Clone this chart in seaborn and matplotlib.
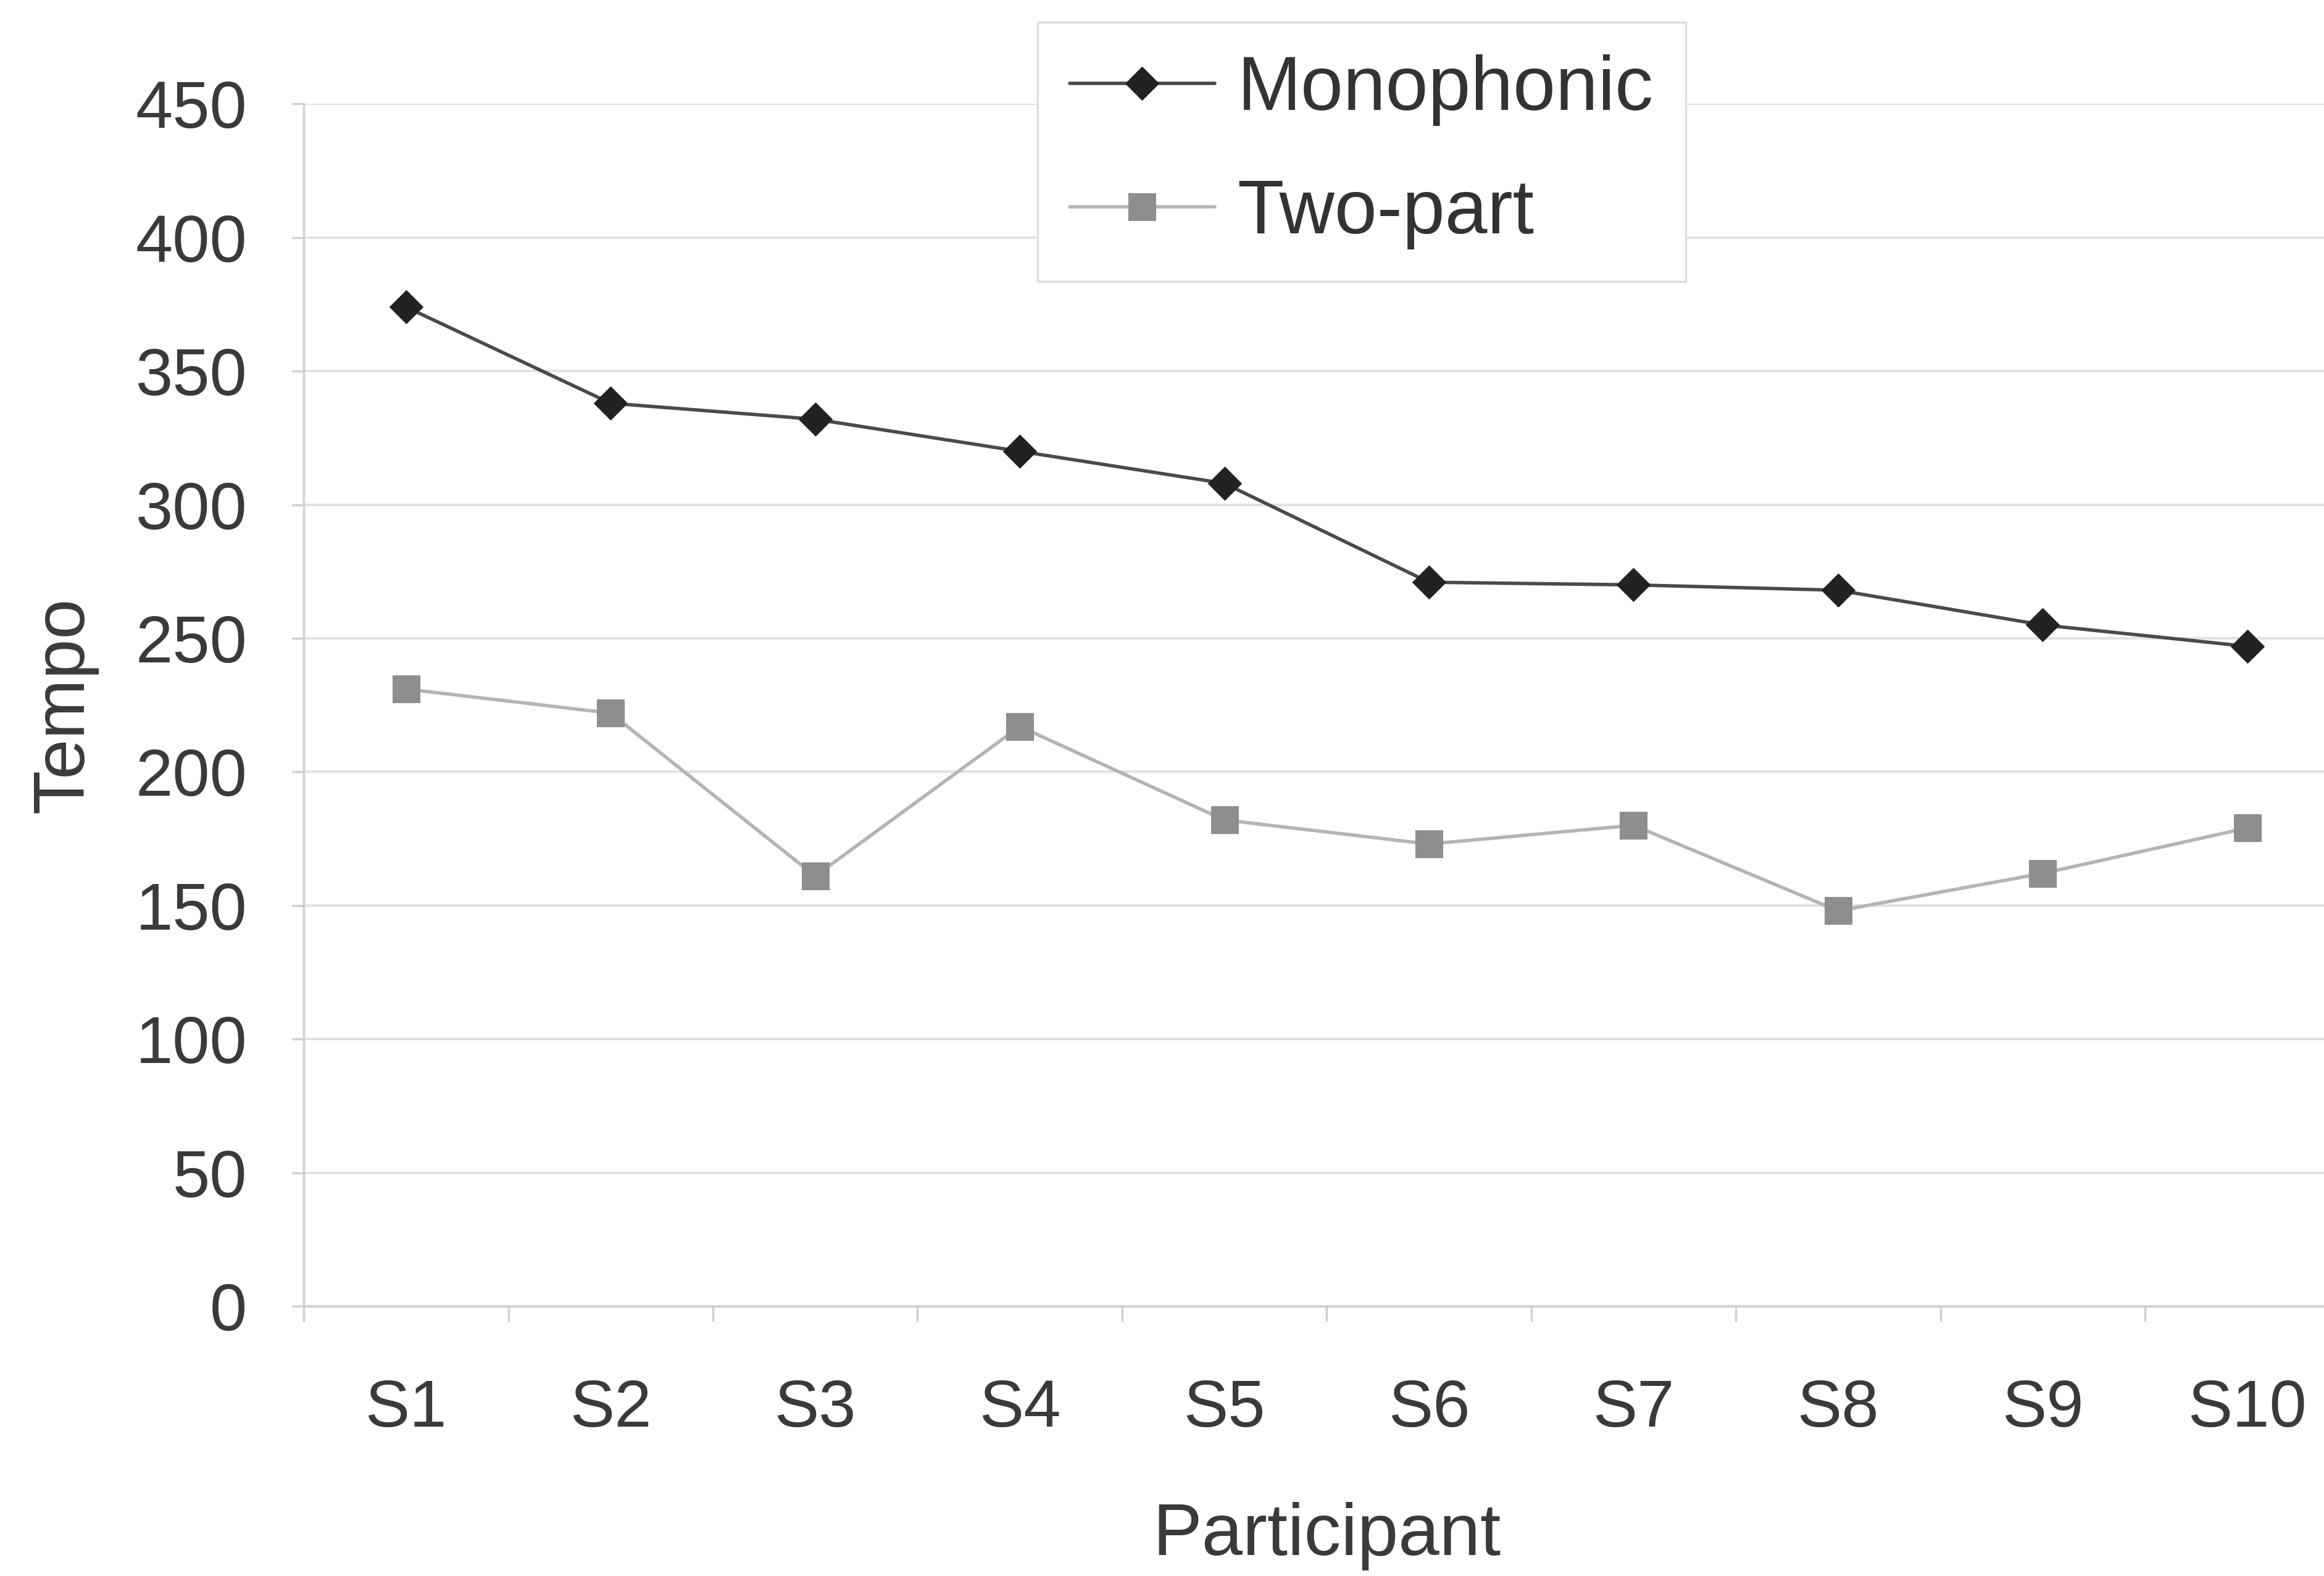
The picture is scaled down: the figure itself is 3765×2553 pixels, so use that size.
import matplotlib
matplotlib.use("Agg")
import matplotlib.pyplot as plt
from matplotlib.ticker import FixedLocator
import seaborn as sns
import pandas as pd

participants = ["S1", "S2", "S3", "S4", "S5", "S6", "S7", "S8", "S9", "S10"]
monophonic = [374, 338, 332, 320, 308, 271, 270, 268, 255, 247]
two_part = [231, 222, 161, 217, 182, 173, 180, 148, 162, 179]
y_ticks = [0, 50, 100, 150, 200, 250, 300, 350, 400, 450]

sns.set_theme(style="white")
plt.rcParams["font.family"] = ["Liberation Sans", "DejaVu Sans"]

df_m = pd.DataFrame({"Participant": participants, "Tempo": monophonic})
df_t = pd.DataFrame({"Participant": participants, "Tempo": two_part})

fig = plt.figure(figsize=(37.65, 25.53), dpi=100)
fig.patch.set_facecolor("white")
ax = fig.add_axes([0.1307, 0.1712, 1.011 - 0.1307, 0.934 - 0.1712])
ax.set_facecolor("white")

sns.lineplot(data=df_m, x="Participant", y="Tempo", ax=ax, color="#4a4a4a",
             linewidth=4, marker="D", markersize=28, markerfacecolor="#222222",
             markeredgecolor="#222222", label="Monophonic", sort=False)
sns.lineplot(data=df_t, x="Participant", y="Tempo", ax=ax, color="#b4b4b4",
             linewidth=4, marker="s", markersize=32, markerfacecolor="#8e8e8e",
             markeredgecolor="#8e8e8e", label="Two-part", sort=False)

ax.set_xlim(-0.5, 9.5)
ax.set_ylim(0, 450)
ax.set_yticks(y_ticks)
ax.set_xticks(range(len(participants)))
ax.set_xticklabels(participants)
ax.xaxis.set_minor_locator(FixedLocator([i - 0.5 for i in range(len(participants) + 1)]))

ax.grid(axis="y", color="#e2e2e2", linewidth=3)
ax.set_axisbelow(True)
for s in ["top", "right"]:
    ax.spines[s].set_visible(False)
for s in ["left", "bottom"]:
    ax.spines[s].set_color("#d0d0d0")
    ax.spines[s].set_linewidth(2.5)

ax.tick_params(axis="y", which="major", length=14, width=2.5, color="#d0d0d0",
               labelsize=78, labelcolor="#3a3a3a", pad=52, left=True)
ax.tick_params(axis="x", which="major", length=0, labelsize=78,
               labelcolor="#3a3a3a", pad=84)
ax.tick_params(axis="x", which="minor", length=18, width=2.5, color="#d0d0d0",
               bottom=True)

ax.set_xlabel("Participant", fontsize=86, color="#3a3a3a", labelpad=72)
ax.set_ylabel("Tempo", fontsize=84, color="#3a3a3a", labelpad=44)

leg = ax.legend(loc="upper left", bbox_to_anchor=(700 / 1568, 1 - 15 / 1063),
                bbox_transform=fig.transFigure, fontsize=89, frameon=True,
                fancybox=False, edgecolor="#dddddd", framealpha=1,
                handlelength=1.9, handletextpad=0.3, labelspacing=0.68,
                borderpad=0.42, borderaxespad=0)
leg.get_frame().set_linewidth(2.5)
for t in leg.get_texts():
    t.set_color("#333333")

fig.savefig("out.png", dpi=100, facecolor="white")
